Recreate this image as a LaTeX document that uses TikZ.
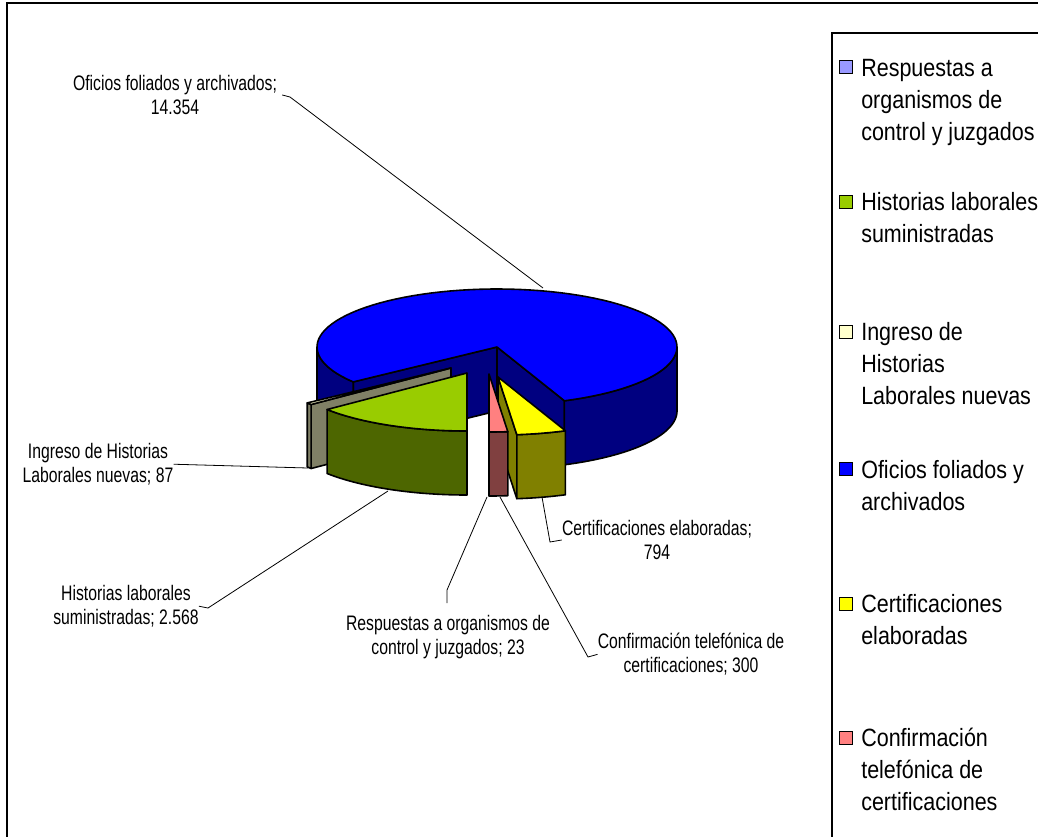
\documentclass[tikz,border=0pt]{standalone}
\usepackage{fontspec}
\setmainfont{Liberation Sans}
\newfontfamily\lblfont[FakeStretch=0.75]{Liberation Sans}
\newfontfamily\legfont[FakeStretch=0.86]{Liberation Sans}

\definecolor{oficTop}{HTML}{0000FF}
\definecolor{oficSide}{HTML}{000080}
\definecolor{histTop}{HTML}{99CC00}
\definecolor{histSide}{HTML}{4D6600}
\definecolor{ingTop}{HTML}{FFFFCC}
\definecolor{ingSide}{HTML}{808066}
\definecolor{certTop}{HTML}{FFFF00}
\definecolor{certSide}{HTML}{808000}
\definecolor{confTop}{HTML}{FF8080}
\definecolor{confSide}{HTML}{804040}
\definecolor{respTop}{HTML}{9999FF}

\newcommand{\pierx}{180}
\newcommand{\piery}{58}
\newcommand{\pieh}{64}
% outer face of a slice: apex x, apex y, from, to, colour
\newcommand{\slicefront}[5]{\filldraw[face,fill=#5] plot[domain=#3:#4,samples=40] ({#1+\pierx*cos(\x)},{#2+\piery*sin(\x)}) -- plot[domain=#4:#3,samples=40] ({#1+\pierx*cos(\x)},{#2+\pieh+\piery*sin(\x)}) -- cycle;}
% top face of a slice
\newcommand{\slicetop}[5]{\filldraw[face,fill=#5] (#1,#2) -- plot[domain=#3:#4,samples=90] ({#1+\pierx*cos(\x)},{#2+\piery*sin(\x)}) -- cycle;}
% cut face of a slice: apex x, apex y, angle, colour
\newcommand{\sliceside}[4]{\filldraw[face,fill=#4] (#1,#2) -- ({#1+\pierx*cos(#3)},{#2+\piery*sin(#3)}) -- ++(0,\pieh) -- (#1,{#2+\pieh}) -- cycle;}

\begin{document}
\begin{tikzpicture}[x=0.75pt,y=-0.75pt]
\tikzset{face/.style={draw=black,line width=1.2pt,line join=round},
         leader/.style={draw=black,line width=0.6pt},
         lbl/.style={font={\lblfont\fontsize{15.75}{18}\selectfont},align=center,anchor=north,inner sep=0pt},
         legtxt/.style={font={\legfont\fontsize{18.75}{24}\selectfont},align=left,anchor=north west,inner sep=0pt},
         legsq/.style={draw=black,line width=0.6pt,minimum size=9.75pt,inner sep=0pt}}
\useasboundingbox (0,0) rectangle (1038,836);
\clip (0,0) rectangle (1038,836);

% frame
\draw[line width=1pt] (7,900) -- (7,3) -- (1100,3);

% Oficios foliados y archivados
\sliceside{497}{347}{68}{oficSide}
\sliceside{497}{347}{143}{oficSide}
\slicefront{497}{347}{0}{68}{oficSide}
\slicefront{497}{347}{143}{180}{oficSide}
\slicetop{497}{347}{-217}{68}{oficTop}

% Ingreso de Historias Laborales nuevas
\sliceside{451}{368}{141}{ingSide}
\slicefront{451}{368}{141}{143}{ingSide}
\slicetop{451}{368}{141}{143}{ingTop}

% Historias laborales suministradas
\slicefront{467}{373}{90}{141}{histSide}
\slicetop{467}{373}{90}{141}{histTop}

% Certificaciones elaboradas
\sliceside{498}{377}{84}{certSide}
\slicefront{498}{377}{68}{84}{certSide}
\slicetop{498}{377}{68}{84}{certTop}

% Confirmacion telefonica
\slicefront{489}{374}{84}{90}{confSide}
\slicetop{489}{374}{84}{90}{confTop}

% data labels
\node[lbl] (lofi) at (175,75) {Oficios foliados y archivados;\\14.354};
\node[lbl] (ling) at (98,443) {Ingreso de Historias\\Laborales nuevas; 87};
\node[lbl] (lhis) at (126,585) {Historias laborales\\suministradas; 2.568};
\node[lbl] (lres) at (448,615) {Respuestas a organismos de\\control y juzgados; 23};
\node[lbl] (lcon) at (691,633) {Confirmación telefónica de\\certificaciones; 300};
\node[lbl] (lcer) at (657,520) {Certificaciones elaboradas;\\794};

\coordinate (ofiKnee) at (290,97);
\coordinate (ofiTip) at (543,288);
\coordinate (ingTip) at (308,468);
\coordinate (hisKnee) at (208,608);
\coordinate (hisTip) at (388,491);
\coordinate (resKnee) at (447,590);
\coordinate (resTip) at (487,497);
\coordinate (conKnee) at (588,657);
\coordinate (conTip) at (500,497);
\coordinate (cerKnee) at (550,542);
\coordinate (cerTip) at (542,497);

\draw[leader] (lofi.east) ++(5,0) -- (ofiKnee) -- (ofiTip);
\draw[leader] (ling.east) -- (ingTip);
\draw[leader] (lhis.east) -- (hisKnee) -- (hisTip);
\draw[leader] (lres.north) ++(-1,-12) -- (resKnee) -- (resTip);
\draw[leader] (lcon.west) -- (conKnee) -- (conTip);
\draw[leader] (lcer.west) -- (cerKnee) -- (cerTip);

% legend
\draw[line width=0.8pt] (832,33) rectangle (1100,900);
\node[legsq,fill=respTop] (sqres) at (845.5,67) {};
\node[legtxt] (tres) at (861,59) {Respuestas a\\organismos de\\control y juzgados};
\node[legsq,fill=histTop] (sqhis) at (845.5,202) {};
\node[legtxt] (this) at (861,192) {Historias laborales\\suministradas};
\node[legsq,fill=ingTop] (sqing) at (845.5,332) {};
\node[legtxt] (ting) at (861,322) {Ingreso de\\Historias\\Laborales nuevas};
\node[legsq,fill=oficTop] (sqofi) at (845.5,469) {};
\node[legtxt] (tofi) at (861,460) {Oficios foliados y\\archivados};
\node[legsq,fill=certTop] (sqcer) at (845.5,604) {};
\node[legtxt] (tcer) at (861,594) {Certificaciones\\elaboradas};
\node[legsq,fill=confTop] (sqcon) at (845.5,738) {};
\node[legtxt] (tcon) at (861,728) {Confirmación\\telefónica de\\certificaciones};
\end{tikzpicture}
\end{document}
